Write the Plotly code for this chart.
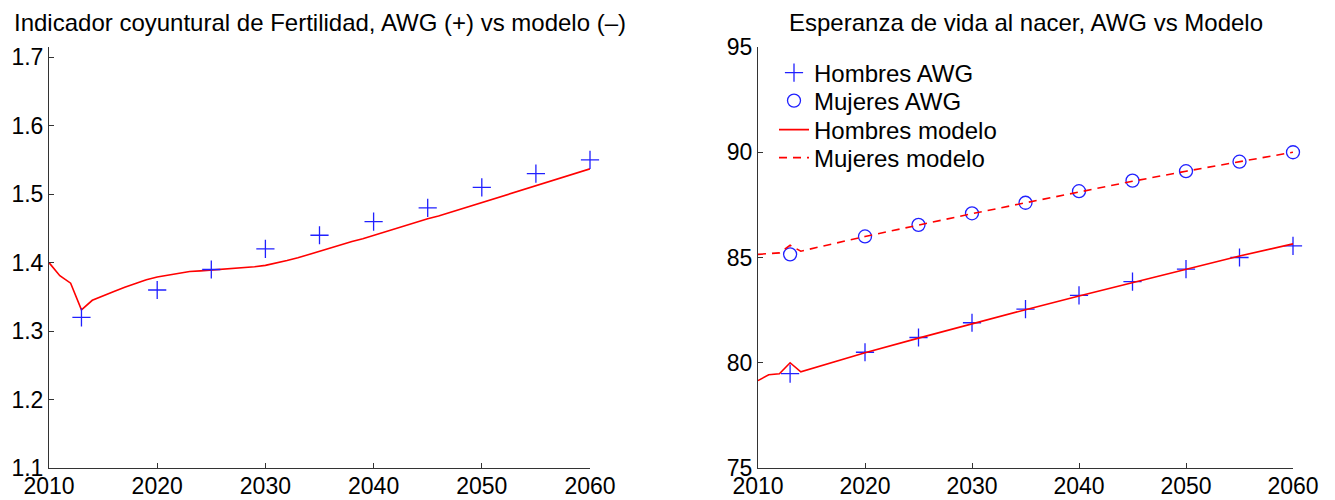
import plotly.graph_objects as go

# --- Fertility indicator (left panel) ---
awg_years = [2013, 2020, 2025, 2030, 2035, 2040, 2045, 2050, 2055, 2060]
fert_awg = [1.32, 1.36, 1.39, 1.42, 1.44, 1.46, 1.48, 1.51, 1.53, 1.55]

model_years = list(range(2010, 2061))
fert_model = [1.400, 1.381, 1.370, 1.331, 1.345, 1.352, 1.358, 1.364, 1.370, 1.375,
              1.379, 1.382, 1.385, 1.387, 1.388, 1.389, 1.390, 1.391, 1.392, 1.394,
              1.396, 1.399, 1.403, 1.407, 1.412, 1.417, 1.421, 1.426, 1.431, 1.435,
              1.440, 1.444, 1.449, 1.454, 1.459, 1.464, 1.468, 1.473, 1.478, 1.483,
              1.488, 1.493, 1.498, 1.503, 1.508, 1.512, 1.517, 1.522, 1.527, 1.532,
              1.537]

# --- Life expectancy at birth (right panel) ---
men_awg = [79.48, 80.5, 81.2, 81.9, 82.55, 83.2, 83.85, 84.45, 85.0, 85.55]
women_awg = [85.15, 86.0, 86.55, 87.1, 87.6, 88.15, 88.65, 89.1, 89.55, 90.0]

life_model_years = [2010, 2011, 2012, 2013, 2014, 2020, 2025, 2030, 2035, 2040, 2045, 2050, 2055, 2060]
men_model = [79.15, 79.43, 79.48, 80.0, 79.57, 80.48, 81.17, 81.86, 82.52, 83.17, 83.8, 84.45, 85.07, 85.65]
women_model = [85.15, 85.2, 85.22, 85.58, 85.3, 86.0, 86.55, 87.08, 87.6, 88.12, 88.62, 89.1, 89.56, 90.0]

x_ticks = [2010, 2020, 2030, 2040, 2050, 2060]
fert_ticks = [1.1, 1.2, 1.3, 1.4, 1.5, 1.6, 1.7]
life_ticks = [75, 80, 85, 90, 95]

BLUE = "#2020ff"
RED = "#ff0000"
FONT = "Liberation Sans, Arial, sans-serif"
FS = 23
FS_TEXT = 24

plus_marker = dict(symbol="cross-thin-open", size=13, color=BLUE,
                   line=dict(color=BLUE, width=1.3))

fig = go.Figure()

fig.add_trace(go.Scatter(x=model_years, y=fert_model, mode="lines",
                         line=dict(color=RED, width=1.6), showlegend=False,
                         xaxis="x", yaxis="y"))
fig.add_trace(go.Scatter(x=awg_years, y=fert_awg, mode="markers", marker=plus_marker,
                         showlegend=False, cliponaxis=False, xaxis="x", yaxis="y"))

fig.add_trace(go.Scatter(x=awg_years, y=men_awg, mode="markers", name="Hombres AWG",
                         marker=plus_marker, cliponaxis=False, legend="legend",
                         xaxis="x2", yaxis="y2"))
fig.add_trace(go.Scatter(x=awg_years, y=women_awg, mode="markers", name="Mujeres AWG",
                         marker=dict(symbol="circle-open", size=13, color=BLUE,
                                     line=dict(color=BLUE, width=1.3)),
                         cliponaxis=False, legend="legend2", xaxis="x2", yaxis="y2"))
fig.add_trace(go.Scatter(x=life_model_years, y=men_model, mode="lines", name="Hombres modelo",
                         line=dict(color=RED, width=1.6), legend="legend3",
                         xaxis="x2", yaxis="y2"))
fig.add_trace(go.Scatter(x=life_model_years, y=women_model, mode="lines", name="Mujeres modelo",
                         line=dict(color=RED, width=1.6, dash="8px,6px"), legend="legend4",
                         xaxis="x2", yaxis="y2"))

axis_common = dict(showgrid=False, zeroline=False, showline=True, linecolor="#333333",
                   linewidth=1, ticks="inside", ticklen=5, tickcolor="#333333",
                   automargin=False,
                   tickfont=dict(family=FONT, size=FS, color="black"))


def legend_row(y_px):
    return dict(x=774 / 1335, y=1 - y_px / 500, xanchor="left", yanchor="middle",
                bgcolor="rgba(0,0,0,0)", borderwidth=0,
                font=dict(family=FONT, size=FS_TEXT))


fig.update_layout(
    template="none",
    width=1335, height=500,
    margin=dict(l=0, r=0, t=0, b=0),
    paper_bgcolor="white", plot_bgcolor="white",
    font=dict(family=FONT, size=FS, color="black"),
    xaxis=dict(domain=[49 / 1335, 590 / 1335], range=[2010, 2060], tickvals=x_ticks,
               anchor="y", ticklabelstandoff=-3, **axis_common),
    yaxis=dict(domain=[32 / 500, 453 / 500], range=[1.1, 1.715], tickvals=fert_ticks,
               ticktext=["1.1", "1.2", "1.3", "1.4", "1.5", "1.6", "1.7"],
               anchor="x", **axis_common),
    xaxis2=dict(domain=[758 / 1335, 1293 / 1335], range=[2010, 2060], tickvals=x_ticks,
                anchor="y2", ticklabelstandoff=-3, **axis_common),
    yaxis2=dict(domain=[32 / 500, 453 / 500], range=[75, 95], tickvals=life_ticks,
                anchor="x2", **axis_common),
    legend=legend_row(73),
    legend2=legend_row(101),
    legend3=legend_row(130),
    legend4=legend_row(158),
    annotations=[
        dict(text="Indicador coyuntural de Fertilidad, AWG (+) vs modelo (\u2013)",
             x=(49 + 590) / 2 / 1335, y=1 - 22 / 500, xref="paper", yref="paper",
             xanchor="center", yanchor="middle", showarrow=False,
             font=dict(family=FONT, size=FS_TEXT)),
        dict(text="Esperanza de vida al nacer, AWG vs Modelo",
             x=(758 + 1293) / 2 / 1335, y=1 - 22 / 500, xref="paper", yref="paper",
             xanchor="center", yanchor="middle", showarrow=False,
             font=dict(family=FONT, size=FS_TEXT)),
    ],
)

fig.write_html("out.html")
